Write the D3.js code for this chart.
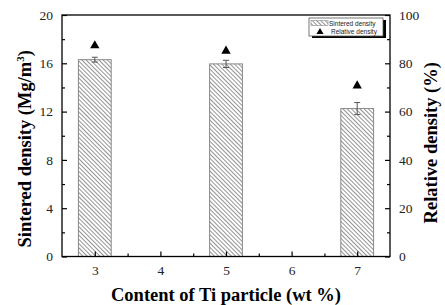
<!DOCTYPE html>
<html>
<head>
<script src="https://d3js.org/d3.v7.min.js"></script>
<style>
  body { margin: 0; background: #fff; }
  svg { display: block; }
</style>
</head>
<body>
<div id="chart"></div>
<script>
// data
const content = [3, 5, 7];
const sintered = [16.3, 15.95, 12.25];
const sinteredErr = [0.2, 0.3, 0.5];
const relative = [87.3, 85.1, 70.7];
const xTicks = [3, 4, 5, 6, 7];
const yTicks = [0, 4, 8, 12, 16, 20];
const y2Ticks = [0, 20, 40, 60, 80, 100];

const W = 445, H = 305;
const L = 62, R = 390, T = 15, B = 256.5;

const svg = d3.select('#chart').append('svg')
  .attr('width', W).attr('height', H);

const defs = svg.append('defs');
const pat = defs.append('pattern')
  .attr('id', 'hatch')
  .attr('patternUnits', 'userSpaceOnUse')
  .attr('width', 3).attr('height', 3)
  .attr('patternTransform', 'rotate(-45)');
pat.append('line')
  .attr('x1', 0).attr('y1', 0).attr('x2', 0).attr('y2', 3)
  .attr('stroke', '#666').attr('stroke-width', 1.4);

const x = d3.scaleLinear().domain([2.5, 7.5]).range([L, R]);
const y = d3.scaleLinear().domain([0, 20]).range([B, T]);
const y2 = d3.scaleLinear().domain([0, 100]).range([B, T]);

const barW = x(3.25) - x(2.75);

// bars
svg.append('g').selectAll('rect')
  .data(content)
  .join('rect')
  .attr('x', d => x(d) - barW / 2)
  .attr('y', (d, i) => y(sintered[i]))
  .attr('width', barW)
  .attr('height', (d, i) => B - y(sintered[i]))
  .attr('fill', 'url(#hatch)')
  .attr('stroke', '#888')
  .attr('stroke-width', 1);

// error bars
const eg = svg.append('g').attr('stroke', '#555').attr('stroke-width', 1);
content.forEach((d, i) => {
  const cx = x(d);
  const y1 = y(sintered[i] + sinteredErr[i]);
  const y0 = y(sintered[i] - sinteredErr[i]);
  eg.append('line').attr('x1', cx).attr('x2', cx).attr('y1', y1).attr('y2', y0);
  eg.append('line').attr('x1', cx - 3).attr('x2', cx + 3).attr('y1', y1).attr('y2', y1);
  eg.append('line').attr('x1', cx - 3).attr('x2', cx + 3).attr('y1', y0).attr('y2', y0);
});

// relative density triangles
const tri = d3.symbol().type(d3.symbolTriangle).size(38);
svg.append('g').selectAll('path')
  .data(content)
  .join('path')
  .attr('d', tri)
  .attr('transform', (d, i) => `translate(${x(d)},${y2(relative[i])})`)
  .attr('fill', '#000');

// axes
const serif = '"Liberation Serif", "Times New Roman", serif';

svg.append('g')
  .attr('transform', `translate(0,${B})`)
  .call(d3.axisBottom(x).tickValues(xTicks).tickSize(-5).tickPadding(9).tickFormat(d3.format('d')));
svg.append('g')
  .attr('transform', `translate(0,${B})`)
  .call(d3.axisBottom(x).tickValues([3.5, 4.5, 5.5, 6.5]).tickSize(-3).tickFormat(''));

svg.append('g')
  .attr('transform', `translate(${L},0)`)
  .call(d3.axisLeft(y).tickValues(yTicks).tickSize(-5).tickPadding(9));
svg.append('g')
  .attr('transform', `translate(${L},0)`)
  .call(d3.axisLeft(y).tickValues([2, 6, 10, 14, 18]).tickSize(-3).tickFormat(''));

svg.append('g')
  .attr('transform', `translate(${R},0)`)
  .call(d3.axisRight(y2).tickValues(y2Ticks).tickSize(-5).tickPadding(9));
svg.append('g')
  .attr('transform', `translate(${R},0)`)
  .call(d3.axisRight(y2).tickValues([10, 30, 50, 70, 90]).tickSize(-3).tickFormat(''));

svg.selectAll('.domain').remove();
svg.selectAll('.tick line').attr('stroke', '#000').attr('stroke-width', 1.2);
svg.selectAll('.tick text')
  .attr('font-family', serif).attr('font-size', 13.5).attr('fill', '#222');

// frame
svg.append('rect')
  .attr('x', L).attr('y', T).attr('width', R - L).attr('height', B - T)
  .attr('fill', 'none').attr('stroke', '#000').attr('stroke-width', 1.3);

// titles
svg.append('text')
  .attr('x', 226).attr('y', 301)
  .attr('text-anchor', 'middle')
  .attr('font-family', serif).attr('font-weight', 'bold').attr('font-size', 18.5)
  .text('Content of Ti particle (wt %)');

const lt = svg.append('text')
  .attr('transform', `translate(31,${(T + B) / 2 + 13}) rotate(-90)`)
  .attr('text-anchor', 'middle')
  .attr('font-family', serif).attr('font-weight', 'bold').attr('font-size', 18.5);
lt.append('tspan').text('Sintered density (Mg/m');
lt.append('tspan').attr('font-size', 11).attr('dy', -7).text('3');
lt.append('tspan').attr('dy', 7).text(')');

svg.append('text')
  .attr('transform', `translate(437,${(T + B) / 2 + 7}) rotate(-90)`)
  .attr('text-anchor', 'middle')
  .attr('font-family', serif).attr('font-weight', 'bold').attr('font-size', 18.5)
  .text('Relative density (%)');

// legend
const lg = svg.append('g').attr('transform', 'translate(309,18)');
lg.append('rect').attr('x', 3).attr('y', 2).attr('width', 74).attr('height', 18).attr('fill', '#000');
lg.append('rect').attr('x', 0).attr('y', 0).attr('width', 74).attr('height', 18)
  .attr('fill', '#fff').attr('stroke', '#555').attr('stroke-width', 0.8);
lg.append('rect').attr('x', 2).attr('y', 2.5).attr('width', 17).attr('height', 5)
  .attr('fill', 'url(#hatch)').attr('stroke', '#888').attr('stroke-width', 0.6);
lg.append('path').attr('d', d3.symbol().type(d3.symbolTriangle).size(22))
  .attr('transform', 'translate(11,14)').attr('fill', '#000');
const sans = '"Liberation Sans", Arial, sans-serif';
lg.append('text').attr('x', 20).attr('y', 8).attr('font-family', sans).attr('font-size', 6.5)
  .attr('fill', '#222').text('Sintered density');
lg.append('text').attr('x', 22).attr('y', 16).attr('font-family', sans).attr('font-size', 6.5)
  .attr('fill', '#222').text('Relative density');
</script>
</body>
</html>
